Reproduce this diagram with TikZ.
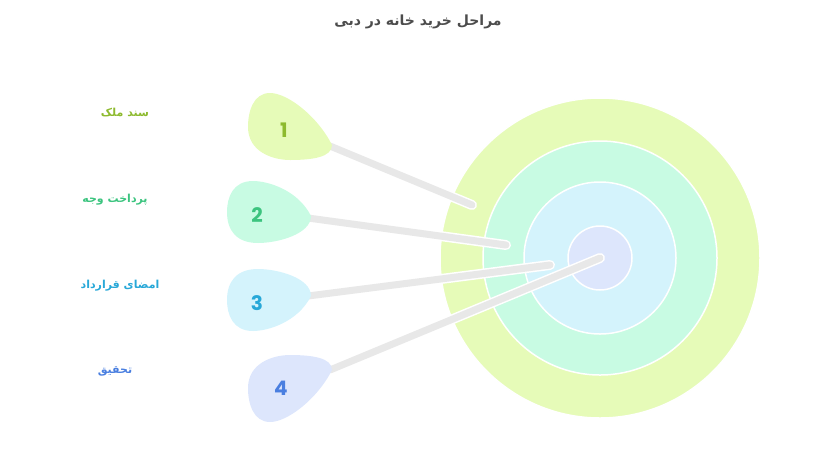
\documentclass[tikz,border=0pt]{standalone}
\usepackage{fontspec}
\setmainfont{DejaVu Sans}
\newfontfamily\arabicfont[Script=Arabic]{DejaVu Sans}
\newfontfamily\numfont{Poppins}
\TeXXeTstate=1
\definecolor{cA}{HTML}{E6FBB8}\definecolor{cB}{HTML}{C8FBE3}
\definecolor{cC}{HTML}{D4F3FC}\definecolor{cD}{HTML}{DDE6FC}
\definecolor{tA}{HTML}{8DBA2E}\definecolor{tB}{HTML}{3CC47F}
\definecolor{tC}{HTML}{28A8D8}\definecolor{tD}{HTML}{4A7FE0}
\definecolor{stick}{HTML}{E8E8E8}
\begin{document}
\begin{tikzpicture}[x=1pt,y=-1pt,
  ring/.style={draw=white,line width=1.5pt},
  lbl/.style={font=\arabicfont\bfseries\fontsize{11}{13}\selectfont},
  num/.style={font=\numfont\bfseries\fontsize{20}{22}\selectfont},
  stickw/.style={white,line width=10pt,line cap=round},
  stickg/.style={stick,line width=7pt,line cap=round}]
\useasboundingbox (0,0) rectangle (835,467);
\node[font=\arabicfont\bfseries\fontsize{14}{16}\selectfont,text=black!70] (title) at (418,22) {\beginR مراحل خرید خانه در دبی\endR};
% target
\fill[cA,ring] (600,258) circle (160);
\fill[cB,ring] (600,258) circle (117);
\fill[cC,ring] (600,258) circle (76);
\fill[cD,ring] (600,258) circle (32);
% stick ends
\coordinate (e1) at (472,205);
\coordinate (e2) at (506,245);
\coordinate (e3) at (550,265);
\coordinate (e4) at (600,258);
\coordinate (s1) at (330,146);
\coordinate (s2) at (308,218);
\coordinate (s3) at (308,296);
\coordinate (s4) at (330,370);
\foreach \i in {1,2,3,4}{\draw[stickw] (s\i) -- (e\i); \draw[stickg] (s\i) -- (e\i);}
% blobs
\fill[cA,shift={(288,127)}] (44,18) .. controls (30,-10) and (0,-34) .. (-18,-34) .. controls (-35,-34) and (-40,-15) .. (-40,0) .. controls (-40,25) and (-15,33) .. (2,33) .. controls (25,33) and (44,30) .. (44,18) -- cycle;
\fill[cB,shift={(268,212)}] (43,4) .. controls (30,-22) and (0,-31) .. (-15,-31) .. controls (-35,-31) and (-41,-15) .. (-41,0) .. controls (-41,18) and (-32,31) .. (-10,31) .. controls (10,31) and (43,22) .. (43,4) -- cycle;
\fill[cC,shift={(268,300)}] (43,-4) .. controls (43,-22) and (10,-31) .. (-10,-31) .. controls (-32,-31) and (-41,-18) .. (-41,0) .. controls (-41,15) and (-35,31) .. (-15,31) .. controls (0,31) and (30,22) .. (43,-4) -- cycle;
\fill[cD,shift={(288,388)}] (44,-18) .. controls (44,-30) and (25,-33) .. (2,-33) .. controls (-15,-33) and (-40,-25) .. (-40,0) .. controls (-40,15) and (-35,34) .. (-18,34) .. controls (0,34) and (30,10) .. (44,-18) -- cycle;
\node[num,text=tA] (n1) at (284,130) {1};
\node[num,text=tB] (n2) at (257,215) {2};
\node[num,text=tC] (n3) at (257,303) {3};
\node[num,text=tD] (n4) at (281,388) {4};
\node[lbl,text=tA] (l1) at (125,113) {\beginR سند ملک\endR};
\node[lbl,text=tB] (l2) at (115,200) {\beginR پرداخت وجه\endR};
\node[lbl,text=tC] (l3) at (120,286) {\beginR امضای قرارداد\endR};
\node[lbl,text=tD] (l4) at (115,371) {\beginR تحقیق\endR};
\end{tikzpicture}
\end{document}
